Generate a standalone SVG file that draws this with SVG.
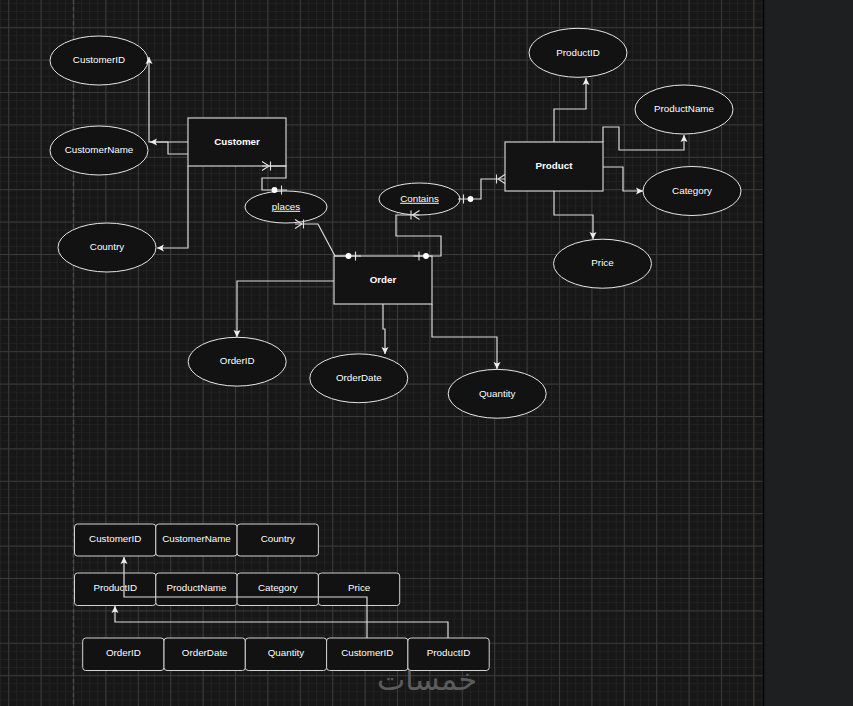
<svg xmlns="http://www.w3.org/2000/svg" width="853" height="706" viewBox="0 0 853 706">
<style>
  .bg{fill:#171717}
  .ent{fill:#131313;stroke:#d0d0d0;stroke-width:1.2}
  .att{fill:#121212;stroke:#e6e6e6;stroke-width:1}
  .cell{fill:#121212;stroke:#d2d2d2;stroke-width:1}
  .t{font-family:"Liberation Sans",Arial,sans-serif;font-size:9.8px;fill:#ffffff;text-anchor:middle}
  .b{font-weight:bold}
  .u{text-decoration:underline}
  .e{fill:none;stroke:#dcdcdc;stroke-width:1.2}
  .a{marker-end:url(#arr)}
</style>
<defs>
  <pattern id="minor" patternUnits="userSpaceOnUse" x="40.6" y="27.2" width="8.1" height="8.1">
    <path d="M0,0.5 H8.1 M0.5,0 V8.1" stroke="#222222" stroke-width="1" fill="none"/>
  </pattern>
  <pattern id="major" patternUnits="userSpaceOnUse" x="40.6" y="27.2" width="32.4" height="32.4">
    <path d="M0,0.5 H32.4 M0.5,0 V32.4" stroke="#3a3a3a" stroke-width="1" fill="none"/>
  </pattern>
  <marker id="arr" markerUnits="userSpaceOnUse" viewBox="0 0 10 10" markerWidth="10" markerHeight="10" refX="9" refY="5" orient="auto">
    <path d="M9,5 L2,1.5 L3.6,5 L2,8.5 Z" fill="#f0f0f0"/>
  </marker>
  <marker id="many" markerUnits="userSpaceOnUse" viewBox="-12 -6 14 12" markerWidth="14" markerHeight="12" refX="0" refY="0" orient="auto-start-reverse" overflow="visible">
    <path d="M-7,0 L0,-4.5 M-7,0 L0,4.5 M-8.5,-4.5 V4.5" stroke="#e0e0e0" stroke-width="1.1" fill="none"/>
  </marker>
  <marker id="zeroone" markerUnits="userSpaceOnUse" viewBox="-18 -6 20 12" markerWidth="20" markerHeight="12" refX="0" refY="0" orient="auto-start-reverse" overflow="visible">
    <circle cx="-12.5" cy="0" r="2.9" fill="#ffffff"/>
    <path d="M-5.5,-4.5 V4.5" stroke="#e0e0e0" stroke-width="1.1"/>
  </marker>
</defs>

<rect class="bg" x="0" y="0" width="853" height="706"/>
<rect x="0" y="0" width="763" height="706" fill="url(#minor)"/>
<rect x="0" y="0" width="763" height="706" fill="url(#major)"/>
<line x1="73.5" y1="0" x2="73.5" y2="706" stroke="#4a4a4a" stroke-width="1.5" stroke-dasharray="4 3"/>
<rect x="763.5" y="0" width="89.5" height="706" fill="#1e1f21"/>
<line x1="763.5" y1="0" x2="763.5" y2="706" stroke="#050505" stroke-width="1.5"/>

<text x="427" y="690" font-family="'DejaVu Sans',sans-serif" font-size="30" fill="#5c5c5c" text-anchor="middle">خمسات</text>

<g id="Customer"><rect class="ent" x="188" y="118" width="98" height="48"/><text class="t b" x="237" y="144.8">Customer</text></g>
<g id="CustomerID"><ellipse class="att" cx="99" cy="60.5" rx="49" ry="24.5"/><text class="t" x="99" y="63.2">CustomerID</text></g>
<g id="CustomerName"><ellipse class="att" cx="99" cy="150.5" rx="49" ry="24.5"/><text class="t" x="99" y="153.2">CustomerName</text></g>
<g id="Country"><ellipse class="att" cx="107" cy="247.5" rx="49" ry="24.5"/><text class="t" x="107" y="250.2">Country</text></g>
<g id="places"><ellipse class="att" cx="286" cy="207" rx="41" ry="16"/><text class="t u" x="286" y="209.8">places</text></g>
<g id="Order"><rect class="ent" x="334" y="256" width="98" height="48"/><text class="t b" x="383" y="282.8">Order</text></g>
<g id="Contains"><ellipse class="att" cx="419.5" cy="199" rx="40.5" ry="16"/><text class="t u" x="419.5" y="201.8">Contains</text></g>
<g id="Product"><rect class="ent" x="505" y="142" width="98" height="49"/><text class="t b" x="554" y="169.3">Product</text></g>
<g id="ProductID"><ellipse class="att" cx="578" cy="52.8" rx="49" ry="24.5"/><text class="t" x="578" y="55.5">ProductID</text></g>
<g id="ProductName"><ellipse class="att" cx="684" cy="109.5" rx="49" ry="24.5"/><text class="t" x="684" y="112.2">ProductName</text></g>
<g id="Category"><ellipse class="att" cx="692" cy="191" rx="49" ry="24.5"/><text class="t" x="692" y="193.7">Category</text></g>
<g id="Price"><ellipse class="att" cx="602.5" cy="263.7" rx="49" ry="24.5"/><text class="t" x="602.5" y="266.4">Price</text></g>
<g id="OrderID"><ellipse class="att" cx="237.2" cy="361.7" rx="49" ry="24.4"/><text class="t" x="237.2" y="364.4">OrderID</text></g>
<g id="OrderDate"><ellipse class="att" cx="358.8" cy="378.3" rx="49" ry="24.4"/><text class="t" x="358.8" y="381">OrderDate</text></g>
<g id="Quantity"><ellipse class="att" cx="497.2" cy="393.8" rx="49" ry="24.4"/><text class="t" x="497.2" y="396.5">Quantity</text></g>

<g id="connectors">
  <path class="e a" d="M188,142 H149 V57"/>
  <path class="e a" d="M188,154 H168 V142 H150"/>
  <path class="e a" d="M188,166 V248 H157"/>
  <path class="e" d="M262,166 H286 V178 H262 V190 H287" marker-start="url(#many)" marker-end="url(#zeroone)"/>
  <path class="e" d="M295,224 H318 L335,256 H361" marker-start="url(#many)" marker-end="url(#zeroone)"/>
  <path class="e" d="M413.5,256 H441 V236 H396 V215 H419.5" marker-start="url(#zeroone)" marker-end="url(#many)"/>
  <path class="e" d="M458,199 H481 V179 H505" marker-start="url(#zeroone)" marker-end="url(#many)"/>
  <path class="e a" d="M554,142 V109 H586 V78"/>
  <path class="e a" d="M603,142 V127 H619 V150 H684 V135"/>
  <path class="e a" d="M603,167 H623 V191 H643"/>
  <path class="e a" d="M554,191 V215 H593 V239"/>
  <path class="e a" d="M334,281 H237 V337"/>
  <path class="e a" d="M383,304 V329 H385 V354"/>
  <path class="e a" d="M432,304 V337 H497 V369"/>
</g>

<g id="CustomerTable">
  <rect class="cell" x="74.5" y="524" width="81.3" height="32" rx="3"/><text class="t" x="115.2" y="542.3">CustomerID</text>
  <rect class="cell" x="155.8" y="524" width="81.3" height="32" rx="3"/><text class="t" x="196.5" y="542.3">CustomerName</text>
  <rect class="cell" x="237.1" y="524" width="81.3" height="32" rx="3"/><text class="t" x="277.8" y="542.3">Country</text>
</g>
<g id="ProductTable">
  <rect class="cell" x="74.5" y="573" width="81.3" height="32.5" rx="3"/><text class="t" x="115.2" y="591">ProductID</text>
  <rect class="cell" x="155.8" y="573" width="81.3" height="32.5" rx="3"/><text class="t" x="196.5" y="591">ProductName</text>
  <rect class="cell" x="237.1" y="573" width="81.3" height="32.5" rx="3"/><text class="t" x="277.8" y="591">Category</text>
  <rect class="cell" x="318.4" y="573" width="81.3" height="32.5" rx="3"/><text class="t" x="359.1" y="591">Price</text>
</g>
<g id="OrderTable">
  <rect class="cell" x="82.7" y="638" width="81.3" height="32.5" rx="3"/><text class="t" x="123.4" y="656">OrderID</text>
  <rect class="cell" x="164" y="638" width="81.3" height="32.5" rx="3"/><text class="t" x="204.7" y="656">OrderDate</text>
  <rect class="cell" x="245.3" y="638" width="81.3" height="32.5" rx="3"/><text class="t" x="286" y="656">Quantity</text>
  <rect class="cell" x="326.6" y="638" width="81.3" height="32.5" rx="3"/><text class="t" x="367.3" y="656">CustomerID</text>
  <rect class="cell" x="407.9" y="638" width="81.3" height="32.5" rx="3"/><text class="t" x="448.6" y="656">ProductID</text>
</g>

<g id="table-connectors">
  <path class="e a" d="M367,638 V597 H124 V557"/>
  <path class="e a" d="M448,638 V622 H115 V606"/>
</g>
</svg>
